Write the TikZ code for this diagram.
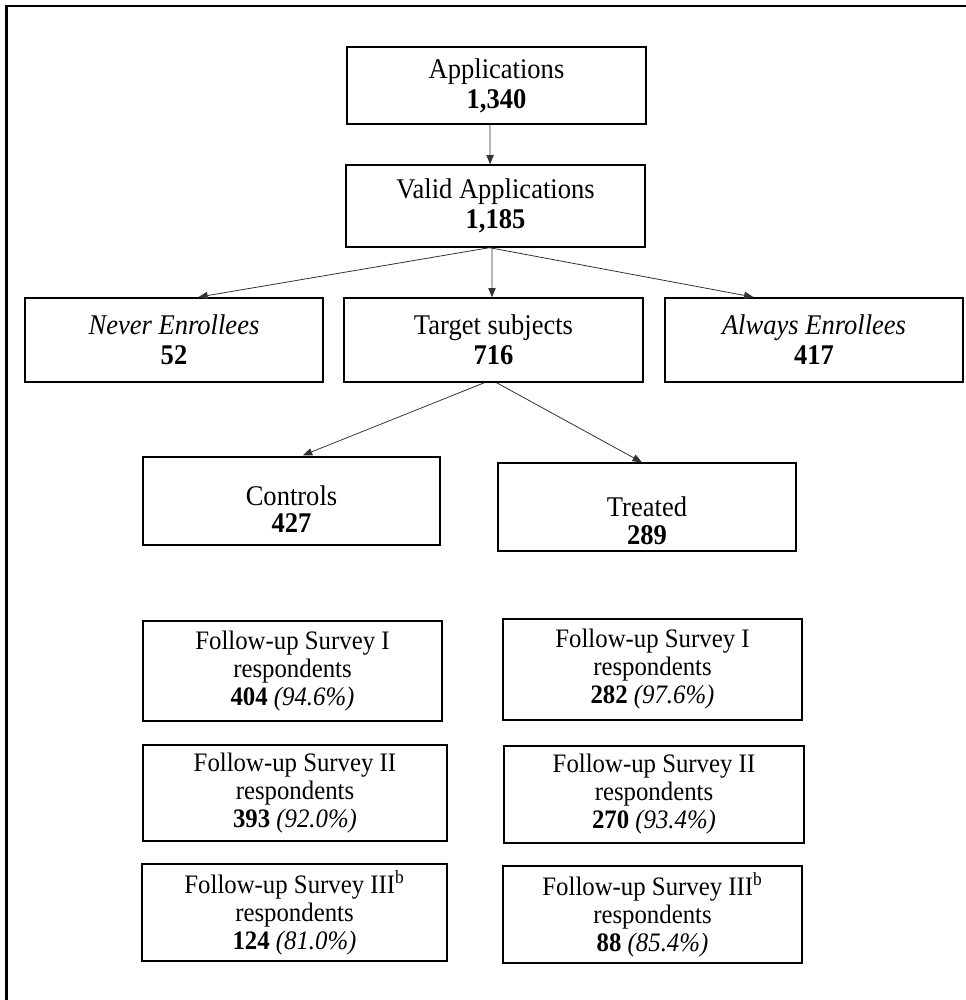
\documentclass[tikz,border=0pt]{standalone}
\usepackage{fontspec}
\setmainfont{Liberation Serif}[FakeStretch=0.93]
\usetikzlibrary{arrows.meta,calc}
\begin{document}
\begin{tikzpicture}[x=0.75pt,y=-0.75pt,
  box/.style={draw=black,line width=1pt,inner sep=0pt,align=center,font=\fontsize{21.4}{22.6}\selectfont},
  midbox/.style={box,font=\fontsize{21.4}{20.6}\selectfont},
  fsbox/.style={box,font=\fontsize{20}{21}\selectfont},
  conn/.style={draw=black!80,line width=0.6pt,-{Triangle[length=7pt,width=5.5pt]}},
  frameline/.style={line width=2.2pt,draw=black}]
\useasboundingbox (0,0) rectangle (966,1000);
\fill[white] (0,0) rectangle (966,1000);
\draw[frameline] (966,6) -- (6.5,6) -- (6.5,1000);

\node[box,minimum width=224.25pt,minimum height=57.75pt] (app) at (496.5,85.5) {Applications\\\textbf{1,340}};
\node[box,minimum width=224.25pt,minimum height=61.5pt] (valid) at (495.5,206) {Valid Applications\\\textbf{1,185}};
\node[box,minimum width=223.5pt,minimum height=63pt] (never) at (174,340) {\textit{Never Enrollees}\\\textbf{52}};
\node[box,minimum width=224.25pt,minimum height=63pt] (target) at (493.5,340) {Target subjects\\\textbf{716}};
\node[box,minimum width=223.5pt,minimum height=63pt] (always) at (814,340) {\textit{Always Enrollees}\\\textbf{417}};
\node[midbox,minimum width=222.75pt,minimum height=66pt] (controls) at (291.5,501) {\rule{0pt}{27pt}Controls\\\textbf{427}};
\node[midbox,minimum width=223.5pt,minimum height=66pt] (treated) at (647,507) {\rule{0pt}{35.5pt}Treated\\\textbf{289}};

\node[fsbox,minimum width=224.25pt,minimum height=75pt] (fs1c) at (292.5,671) {Follow-up Survey I\\respondents\\\textbf{404} \textit{(94.6\%)}};
\node[fsbox,minimum width=228pt,minimum height=72pt] (fs2c) at (295,793) {Follow-up Survey II\\respondents\\\textbf{393} \textit{(92.0\%)}};
\node[fsbox,minimum width=228.75pt,minimum height=72.75pt] (fs3c) at (294.5,912.5) {Follow-up Survey III\textsuperscript{b}\\respondents\\\textbf{124} \textit{(81.0\%)}};
\node[fsbox,minimum width=224.25pt,minimum height=75.75pt] (fs1t) at (652.5,669.5) {Follow-up Survey I\\respondents\\\textbf{282} \textit{(97.6\%)}};
\node[fsbox,minimum width=225pt,minimum height=72.75pt] (fs2t) at (654,794.5) {Follow-up Survey II\\respondents\\\textbf{270} \textit{(93.4\%)}};
\node[fsbox,minimum width=224.25pt,minimum height=72.75pt] (fs3t) at (652.5,914.5) {Follow-up Survey III\textsuperscript{b}\\respondents\\\textbf{88} \textit{(85.4\%)}};

\draw[conn] ($(app.south west)!0.478!(app.south east)$) -- ($(valid.north west)!0.482!(valid.north east)$);
\draw[conn,shorten >=1pt] ($(valid.south west)!0.48!(valid.south east)$) -- ($(never.north west)!0.577!(never.north east)$);
\draw[conn] ($(valid.south west)!0.488!(valid.south east)$) -- ($(target.north west)!0.495!(target.north east)$);
\draw[conn,shorten >=1pt] ($(valid.south west)!0.48!(valid.south east)$) -- ($(always.north west)!0.302!(always.north east)$);
\draw[conn,shorten >=2pt] ($(target.south west)!0.47!(target.south east)$) -- ($(controls.north west)!0.53!(controls.north east)$);
\draw[conn] ($(target.south west)!0.51!(target.south east)$) -- ($(treated.north west)!0.483!(treated.north east)$);
\end{tikzpicture}
\end{document}
